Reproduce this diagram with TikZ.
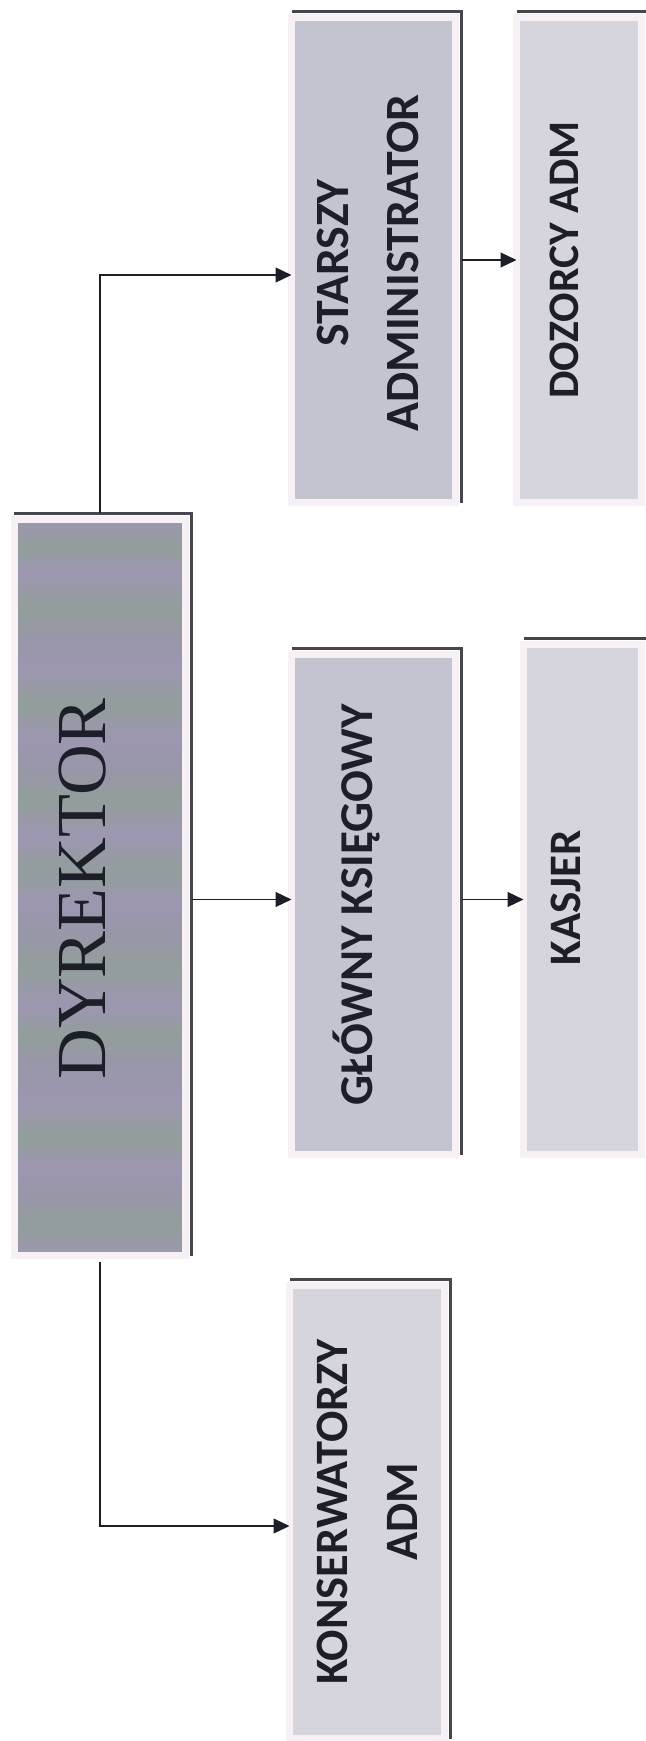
\documentclass[tikz,border=0pt]{standalone}
\usepackage{fontspec}
\newfontfamily\calib{Carlito}
\newfontfamily\timesf{Liberation Serif}
\usetikzlibrary{arrows.meta}

\definecolor{ink}{RGB}{28,30,40}
\definecolor{rim}{RGB}{247,241,245}
\definecolor{rimdark}{RGB}{70,70,76}
\definecolor{boxdyr}{RGB}{152,151,168}
\definecolor{dyrp}{RGB}{157,150,176}
\definecolor{dyrg}{RGB}{146,158,156}
\definecolor{boxmid}{RGB}{196,195,208}
\definecolor{boxpale}{RGB}{214,213,222}

\pgfdeclareverticalshading{dyrbands}{100bp}{color(0bp)=(dyrp); color(25bp)=(dyrp); color(27bp)=(dyrg); color(29bp)=(boxdyr); color(31bp)=(dyrp); color(33bp)=(dyrg); color(35.5bp)=(dyrp); color(38bp)=(boxdyr); color(40bp)=(dyrg); color(42bp)=(dyrp); color(44.5bp)=(dyrg); color(47bp)=(boxdyr); color(49bp)=(dyrp); color(51bp)=(dyrg); color(53.5bp)=(dyrp); color(56bp)=(dyrg); color(58bp)=(boxdyr); color(60bp)=(dyrp); color(62.5bp)=(dyrg); color(65bp)=(dyrp); color(67bp)=(boxdyr); color(69bp)=(dyrg); color(71.5bp)=(dyrp); color(73bp)=(dyrg); color(75bp)=(dyrp); color(100bp)=(dyrp)}

\tikzset{
  box/.style={rectangle, draw=rim, line width=1.75mm, outer sep=0pt},
  box dyrektor/.style={shade, shading=dyrbands},
  rimline/.style={draw=rimdark, line width=0.6mm},
  link/.style={->, draw=ink, line width=1.4pt, shorten <=1.5mm},
  lbl/.style={rotate=90, align=center, text=ink, font=\calib\bfseries\fontsize{#1}{50}\selectfont},
}

\begin{document}
\begin{tikzpicture}[x=0.25mm, y=-0.25mm, >={Triangle[length=4mm, width=3.7mm]}]

% page
\useasboundingbox (0,0) rectangle (645,1741);

% boxes
\foreach \n/\x/\y/\w/\h/\c in {dyrektor/100/887.5/42.75/184/boxdyr, starszy/373.5/260/41/121.25/boxmid, dozorcy/579/260/31.25/121.25/boxpale, glowny/373.5/904.5/41/125/boxmid, kasjer/582.5/899.5/29.5/127.5/boxpale, konserw/367/1512/38.75/113.25/boxpale}
\node [box, fill=\c, box \n/.try, minimum width=\w mm, minimum height=\h mm] (\n) at (\x,\y) {};

\foreach \n in {dyrektor,starszy,dozorcy,glowny,kasjer,konserw}
\draw [rimline] ([yshift=1.5mm]\n.north west) -- ([shift={(1.5mm,1.5mm)}]\n.north east) -- ([xshift=1.5mm]\n.south east);

% labels
\node [rotate=90, text=ink, font=\timesf\fontsize{50}{60}\selectfont] (dyrektor-t) at (83,889) {DYREKTOR};
\node [lbl=34] (starszy-t) at (368,263) {STARSZY\\ADMINISTRATOR};
\node [lbl=31] (dozorcy-t) at (564,260) {DOZORCY ADM};
\node [lbl=33.5] (glowny-t) at (357,905) {GŁÓWNY KSIĘGOWY};
\node [lbl=32] (kasjer-t) at (566,898) {KASJER};
\node [lbl=33] (konserw-t) at (367.5,1512) {KONSERWATORZY\\ADM};

% arrows
\draw [link] (dyrektor.north) |- ([yshift=-3.75mm]starszy.west);
\draw [link] (starszy.east |- dozorcy.west) -- (dozorcy.west);
\draw [link] (dyrektor.east |- kasjer.west) -- (glowny.west |- kasjer.west);
\draw [link] (glowny.east |- kasjer.west) -- (kasjer.west);
\draw [link] (dyrektor.south) |- ([yshift=-3.5mm]konserw.west);

\end{tikzpicture}
\end{document}
